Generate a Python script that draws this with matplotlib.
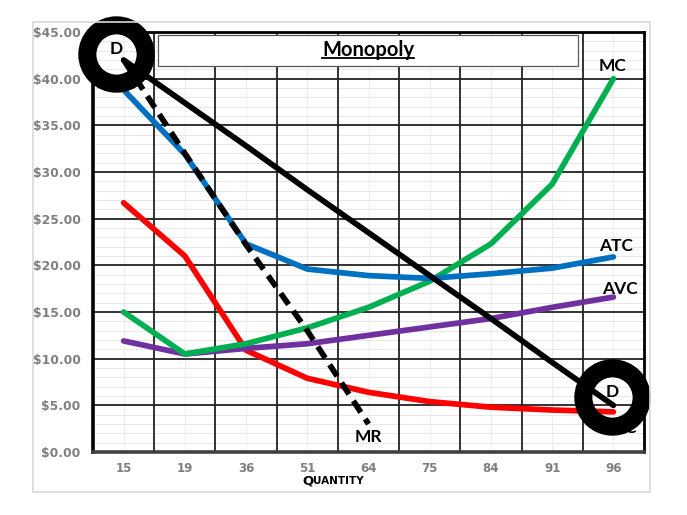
import matplotlib.pyplot as plt
import matplotlib.patches as patches
from matplotlib.lines import Line2D
from matplotlib.ticker import MultipleLocator, FuncFormatter

# Monopoly cost / revenue schedule
quantity = ['15', '19', '36', '51', '64', '75', '84', '91', '96']
demand = [42.0, 37.4, 32.8, 28.1, 23.5, 18.9, 14.3, 9.6, 5.0]
mr = [42.0, 32.0, 22.2, 13.0, 3.0]
atc = [38.8, 31.9, 22.3, 19.6, 18.9, 18.6, 19.1, 19.7, 20.9]
avc = [11.9, 10.5, 11.1, 11.6, 12.5, 13.4, 14.3, 15.5, 16.6]
mc = [15.0, 10.5, 11.6, 13.3, 15.5, 18.3, 22.3, 28.7, 40.0]
afc = [26.7, 21.0, 10.9, 7.9, 6.4, 5.4, 4.8, 4.5, 4.3]

fig = plt.figure(figsize=(6.87, 5.15), dpi=100)
ax = fig.add_axes([0.1354, 0.1223, 0.802, 0.8156])

# light frame around the chart area
fig.patches.append(patches.Rectangle((33 / 687, 1 - 492 / 515), 617 / 687, 470 / 515,
                                     transform=fig.transFigure, fill=False,
                                     edgecolor='#d9d9d9', linewidth=1.2))

x = list(range(len(quantity)))
ax.set_xlim(-0.5, len(quantity) - 0.5)
ax.set_ylim(0, 45)

ax.yaxis.set_major_locator(MultipleLocator(5))
ax.set_xticks(x)
ax.tick_params(which='both', length=0)

# grid drawn by hand so the faint lines stay under the black ones
for v in range(1, 45):
    if v % 5:
        ax.axhline(v, color='#e8e8e8', linewidth=0.7, zorder=0.5)
for i in x:
    ax.axvline(i, color='#ececec', linewidth=0.7, zorder=0.5)
for v in range(5, 45, 5):
    ax.axhline(v, color='#222222', linewidth=1.3, zorder=1)
for i in x[:-1]:
    ax.axvline(i + 0.5, color='#222222', linewidth=1.3, zorder=1)

for side in ['left', 'top', 'right']:
    ax.spines[side].set_color('black')
    ax.spines[side].set_linewidth(2.0)
ax.spines['left'].set_linewidth(2.6)
ax.spines['bottom'].set_color('#404040')
ax.spines['bottom'].set_linewidth(2.6)

ax.set_xticklabels(quantity, fontsize=8.5, fontweight='bold', color='#7f7f7f')
ax.yaxis.set_major_formatter(FuncFormatter(lambda v, p: f'${v:.2f}'))
for lab in ax.get_yticklabels():
    lab.set_fontsize(8.8)
    lab.set_fontweight('bold')
    lab.set_color('#7f7f7f')
ax.tick_params(axis='x', pad=7)
ax.tick_params(axis='y', pad=9)

# curves
lw = 4.1
ax.plot(x, afc, color='#ff0000', linewidth=lw, solid_capstyle='round', zorder=3)
ax.plot(x, avc, color='#7030a0', linewidth=lw, solid_capstyle='round', zorder=3)
ax.plot(x, mc, color='#00b050', linewidth=lw, solid_capstyle='round', zorder=3)
ax.plot(x, atc, color='#0070c0', linewidth=lw, solid_capstyle='round', zorder=3)
ax.plot(x[:len(mr)], mr, color='black', linewidth=lw, linestyle=(0, (2.4, 1.4)), zorder=3)
ax.plot(x, demand, color='black', linewidth=lw, solid_capstyle='round', zorder=3)

# curve labels
lab_kw = dict(fontsize=12.5, fontweight='bold', family='Lato', color='black')
ax.text(7.98, 40.5, 'MC', ha='center', va='bottom', **lab_kw)
ax.text(8.05, 21.2, 'ATC', ha='center', va='bottom', **lab_kw)
ax.text(8.1, 16.6, 'AVC', ha='center', va='bottom', **lab_kw)
ax.text(8.1, 3.4, 'AFC', ha='center', va='top', **lab_kw)
ax.text(4.0, 2.5, 'MR', ha='center', va='top', **lab_kw)

# circled D markers
for cx, cy, ty in [(-0.12, 42.6, 43.2), (7.98, 5.9, 6.4)]:
    ax.plot([cx], [cy], marker='o', markersize=42, markerfacecolor='none',
            markeredgecolor='black', markeredgewidth=13, clip_on=False, zorder=6)
    ax.text(cx, ty, 'D', ha='center', va='center', zorder=7, **lab_kw)

# title box
ax.add_patch(patches.Rectangle((0.118, 0.919), 0.762, 0.074, transform=ax.transAxes,
                               facecolor='white', edgecolor='#595959', linewidth=0.9,
                               zorder=4))
title = ax.text(0.499, 0.957, 'Monopoly', transform=ax.transAxes, ha='center',
                va='center', fontsize=14.5, fontweight='bold', family='Lato', zorder=5)

# small-caps axis title
fig.text(0.456, 0.066, 'Q', ha='right', va='center', fontsize=9.5, fontweight='bold')
fig.text(0.456, 0.066, 'UANTITY', ha='left', va='center', fontsize=7.5, fontweight='bold')

fig.canvas.draw()
bb = title.get_window_extent().transformed(ax.transAxes.inverted())
ax.add_line(Line2D([bb.x0, bb.x1], [bb.y0 + 0.004, bb.y0 + 0.004], transform=ax.transAxes,
                   color='black', linewidth=1.3, zorder=5))

fig.savefig('out.png', dpi=100)
